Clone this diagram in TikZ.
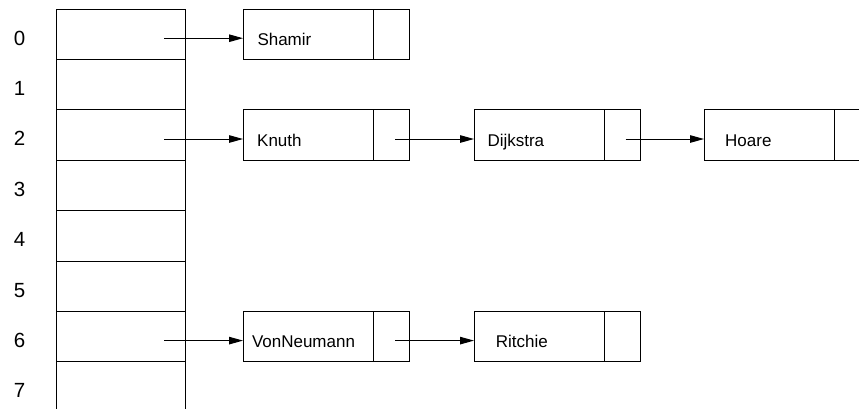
\documentclass[tikz,border=0pt]{standalone}
\usepackage{fontspec}
\setmainfont{Liberation Sans}
\usetikzlibrary{arrows.meta}
\begin{document}
\begin{tikzpicture}[x=1pt,y=-1pt,
  line width=1pt,
  tcell/.style={draw, rectangle, minimum width=129pt, minimum height=50.4pt, inner sep=0pt, outer sep=0pt, anchor=north west},
  lbox/.style={draw, rectangle, minimum width=130pt, minimum height=50.4pt, inner sep=0pt, outer sep=0pt, anchor=north west},
  pbox/.style={draw, rectangle, minimum width=36pt, minimum height=50.4pt, inner sep=0pt, outer sep=0pt, anchor=west},
  idxtext/.style={font=\fontsize{20.5}{23}\selectfont, anchor=base, inner sep=0pt},
  nametext/.style={font=\fontsize{17}{20}\selectfont, anchor=base west, inner sep=0pt},
  ptr/.style={-{Triangle[length=14pt,width=7.5pt]}}]
\useasboundingbox (0,0) rectangle (859,408);
% hash table
\foreach \i in {0,...,7} {
  \node[tcell] (row\i) at (56, 9+50.4*\i) {};
  \node[idxtext] (lab\i) at (19.5, 9+50.4*\i+36) {\i};
  \coordinate (s\i) at (164, 9+50.4*\i+29.2);
}
% list boxes
\node[lbox] (shamir) at (243,9) {};
\node[pbox] (shamirp) at (shamir.east) {};
\node[nametext] (shamirt) at (257,45.2) {Shamir};

\node[lbox] (knuth) at (243,109.8) {};
\node[pbox] (knuthp) at (knuth.east) {};
\node[nametext] (knutht) at (256.7,146) {Knuth};

\node[lbox] (dijkstra) at (474,109.8) {};
\node[pbox] (dijkstrap) at (dijkstra.east) {};
\node[nametext] (dijkstrat) at (487,146) {Dijkstra};

\node[lbox] (hoare) at (704,109.8) {};
\node[pbox] (hoarep) at (hoare.east) {};
\node[nametext] (hoaret) at (724.7,146) {Hoare};

\node[lbox] (vonneumann) at (243,311.4) {};
\node[pbox] (vonneumannp) at (vonneumann.east) {};
\node[nametext] (vonneumannt) at (251.5,347.6) {VonNeumann};

\node[lbox] (ritchie) at (474,311.4) {};
\node[pbox] (ritchiep) at (ritchie.east) {};
\node[nametext] (ritchiet) at (495.4,347.6) {Ritchie};

% pointer starts inside list cells
\coordinate (kq) at (395,139);
\coordinate (dq) at (625.7,139);
\coordinate (vq) at (395,340.6);

% connectors
\draw[ptr] (s0) -- (s0 -| shamir.west);
\draw[ptr] (s2) -- (s2 -| knuth.west);
\draw[ptr] (s6) -- (s6 -| vonneumann.west);
\draw[ptr] (kq) -- (kq -| dijkstra.west);
\draw[ptr] (dq) -- (dq -| hoare.west);
\draw[ptr] (vq) -- (vq -| ritchie.west);
\end{tikzpicture}
\end{document}
